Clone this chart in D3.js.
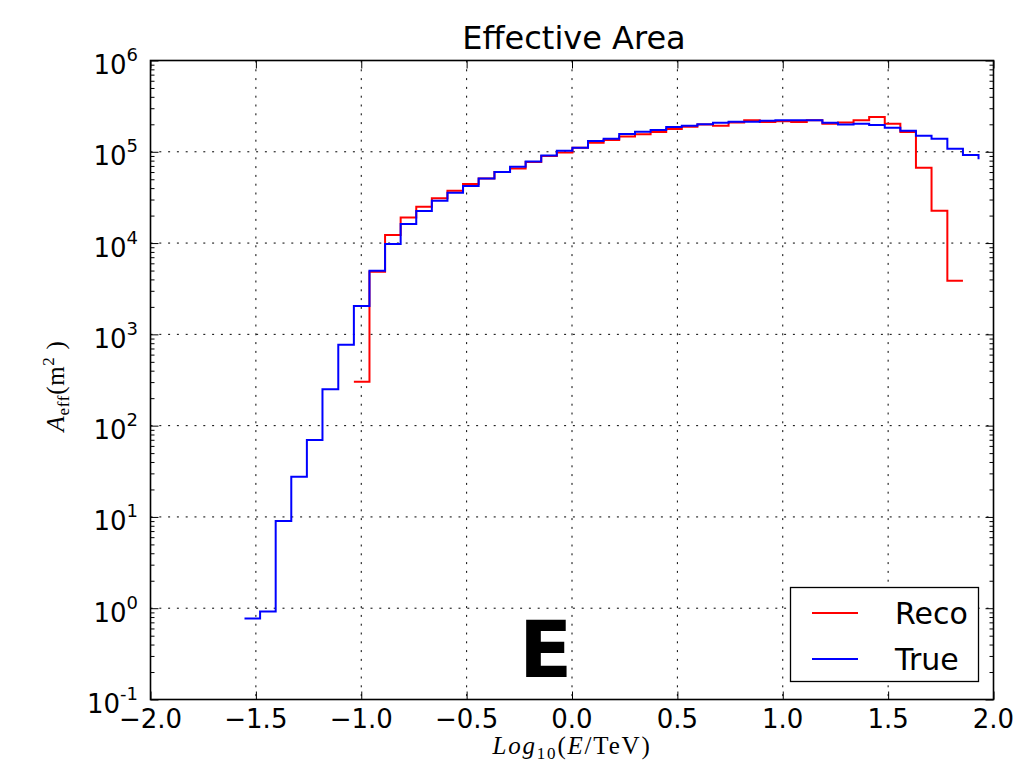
<!DOCTYPE html>
<html>
<head>
<meta charset="utf-8">
<script src="https://cdn.jsdelivr.net/npm/d3@7"></script>
<style>
body { margin: 0; background: #fff; }
svg { display: block; }
</style>
</head>
<body>
<div id="chart"></div>
<script>
const width = 1016
const height = 764

// bin edges on log10(E/TeV)
const edges = [-1.554, -1.480, -1.406, -1.332, -1.258, -1.184, -1.109, -1.035, -0.961, -0.887,
    -0.813, -0.739, -0.665, -0.591, -0.517, -0.443, -0.368, -0.294, -0.220, -0.146,
    -0.072, 0.002, 0.076, 0.150, 0.224, 0.299, 0.373, 0.447, 0.521, 0.595,
    0.669, 0.743, 0.817, 0.891, 0.965, 1.040, 1.114, 1.188, 1.262, 1.336,
    1.410, 1.484, 1.558, 1.632, 1.706, 1.781, 1.855, 1.929]

// effective area (m^2) per bin, true energy (last entry = value at last edge)
const trueVals = [0.77, 0.92, 9.0, 27.5, 69.5, 250, 769, 2040, 4980, 9750,
    16150, 22400, 29000, 35600, 42100, 51100, 59900, 68500, 78500, 91300,
    102500, 110700, 130900, 138700, 156400, 165700, 172900, 186700, 192600, 200900,
    208000, 213000, 213000, 218700, 221000, 222000, 221000, 208000, 199600, 203000,
    197000, 183300, 169900, 149600, 138700, 107900, 92000, 83000]

// reconstructed energy, starts at edge index 7
const recoStart = 7
const recoVals = [303, 4850, 12240, 19100, 25000, 30900, 37400, 44300, 51100, 59900,
    65800, 77100, 89700, 98400, 110700, 125700, 134300, 147500, 155300, 164400,
    177400, 187900, 199600, 192600, 209700, 221000, 211500, 216600, 211500, 222000,
    203000, 209700, 221000, 239900, 203000, 164400, 66800, 22600, 3860, 3860]

const xTicks = [-2.0, -1.5, -1.0, -0.5, 0.0, 0.5, 1.0, 1.5, 2.0]
const yTicks = [0.1, 1, 10, 100, 1000, 1e4, 1e5, 1e6]
const yExps = ["-1", "0", "1", "2", "3", "4", "5", "6"]

const series = [
    {name: "Reco", color: "#ff0000", xs: edges.slice(recoStart, recoStart + recoVals.length), vals: recoVals},
    {name: "True", color: "#0000ff", xs: edges, vals: trueVals}
]

const plotLeft = 150.5, plotRight = 993.5, plotTop = 60.5, plotBottom = 699.5

const svg = d3.select("#chart").append("svg").attr("width", width).attr("height", height)
    .style("font-family", "'DejaVu Sans', sans-serif")

const x = d3.scaleLinear().domain([-2, 2]).range([plotLeft, plotRight])
const y = d3.scaleLog().domain([0.1, 1e6]).range([plotBottom, plotTop])

const yMinor = []
yTicks.slice(0, -1).forEach(d => { for (let m = 2; m <= 9; m++) yMinor.push(d * m) })

// grid
const grid = svg.append("g").attr("id", "grid")
    .attr("stroke", "#000").attr("stroke-width", 1).attr("stroke-dasharray", "2,6.8")
grid.selectAll("line.gx").data(xTicks.slice(1, -1)).enter().append("line")
    .attr("x1", d => x(d)).attr("x2", d => x(d)).attr("y1", plotTop).attr("y2", plotBottom)
grid.selectAll("line.gy").data(yTicks.slice(1, -1)).enter().append("line")
    .attr("x1", plotLeft).attr("x2", plotRight).attr("y1", d => y(d)).attr("y2", d => y(d))

// lines
const line = d3.line().x(d => x(d[0])).y(d => y(d[1])).curve(d3.curveStepAfter)
svg.append("g").attr("id", "lines").selectAll("path").data(series).enter().append("path")
    .attr("fill", "none")
    .attr("stroke", d => d.color)
    .attr("stroke-width", 2)
    .attr("d", d => line(d.xs.map((e, i) => [e, d.vals[i]])))

// ticks (inward, all four sides)
const axes = svg.append("g").attr("id", "axes")
function ticks(axis, tx, ty) {
    const g = axes.append("g").attr("transform", `translate(${tx},${ty})`).call(axis)
    g.select(".domain").remove()
    g.selectAll("line").attr("stroke", "#000").attr("stroke-width", 1)
    g.selectAll("text").remove()
}
ticks(d3.axisBottom(x).tickValues(xTicks).tickSize(-8).tickSizeOuter(0), 0, plotBottom)
ticks(d3.axisTop(x).tickValues(xTicks).tickSize(-8).tickSizeOuter(0), 0, plotTop)
ticks(d3.axisLeft(y).tickValues(yTicks).tickSize(-8).tickSizeOuter(0), plotLeft, 0)
ticks(d3.axisLeft(y).tickValues(yMinor).tickSize(-4).tickSizeOuter(0), plotLeft, 0)
ticks(d3.axisRight(y).tickValues(yTicks).tickSize(-8).tickSizeOuter(0), plotRight, 0)
ticks(d3.axisRight(y).tickValues(yMinor).tickSize(-4).tickSizeOuter(0), plotRight, 0)

// frame
svg.append("rect").attr("x", plotLeft).attr("y", plotTop)
    .attr("width", plotRight - plotLeft).attr("height", plotBottom - plotTop)
    .attr("fill", "none").attr("stroke", "#000").attr("stroke-width", 1.6)

// tick labels
svg.append("g").selectAll("text").data(xTicks).enter().append("text")
    .attr("x", d => x(d)).attr("y", 728)
    .attr("text-anchor", "middle").attr("font-size", 26)
    .text(d => (d < 0 ? "\u2212" : "") + Math.abs(d).toFixed(1))

const yl = svg.append("g").selectAll("text").data(yTicks).enter().append("text")
    .attr("x", 138).attr("y", d => y(d) + 13.5)
    .attr("text-anchor", "end").attr("font-size", 26)
yl.append("tspan").text("10")
yl.append("tspan").attr("font-size", 18).attr("dy", -13).text((d, i) => yExps[i])

// title
svg.append("text").attr("x", 574).attr("y", 49)
    .attr("text-anchor", "middle").attr("font-size", 32).text("Effective Area")

// axis labels
const xl = svg.append("text").attr("x", 572).attr("y", 754)
    .attr("text-anchor", "middle").attr("font-size", 25).attr("letter-spacing", 1.8)
    .style("font-family", "'Liberation Serif', serif")
xl.append("tspan").attr("font-style", "italic").text("Log")
xl.append("tspan").attr("font-size", 17).attr("dy", 5).text("10")
xl.append("tspan").attr("dy", -5).text("(")
xl.append("tspan").attr("font-style", "italic").text("E")
xl.append("tspan").text("/TeV)")

const ylab = svg.append("text").attr("transform", "translate(64,386) rotate(-90)")
    .attr("text-anchor", "middle").attr("font-size", 25).attr("letter-spacing", 0.7)
    .style("font-family", "'Liberation Serif', serif")
ylab.append("tspan").attr("font-style", "italic").text("A")
ylab.append("tspan").attr("font-size", 17).attr("dy", 5).text("eff")
ylab.append("tspan").attr("dy", -5).text("(m")
ylab.append("tspan").attr("font-size", 17).attr("dy", -10).text("2")
ylab.append("tspan").attr("dy", 10).text("\u00a0)")

// big panel letter
svg.append("text").attr("x", 519).attr("y", 677)
    .attr("font-size", 78).attr("font-weight", "bold").text("E")

// legend
const leg = svg.append("g").attr("id", "legend")
leg.append("rect").attr("x", 790.5).attr("y", 587.5).attr("width", 188).attr("height", 94)
    .attr("fill", "#fff").attr("stroke", "#000").attr("stroke-width", 1.3)
const li = leg.selectAll("g.item").data(series).enter().append("g")
    .attr("transform", (d, i) => `translate(0,${613 + i * 46})`)
li.append("line").attr("x1", 812).attr("x2", 858).attr("y1", 0).attr("y2", 0)
    .attr("stroke", d => d.color).attr("stroke-width", 2)
li.append("text").attr("x", 895).attr("y", 11).attr("font-size", 30).text(d => d.name)
</script>
</body>
</html>
